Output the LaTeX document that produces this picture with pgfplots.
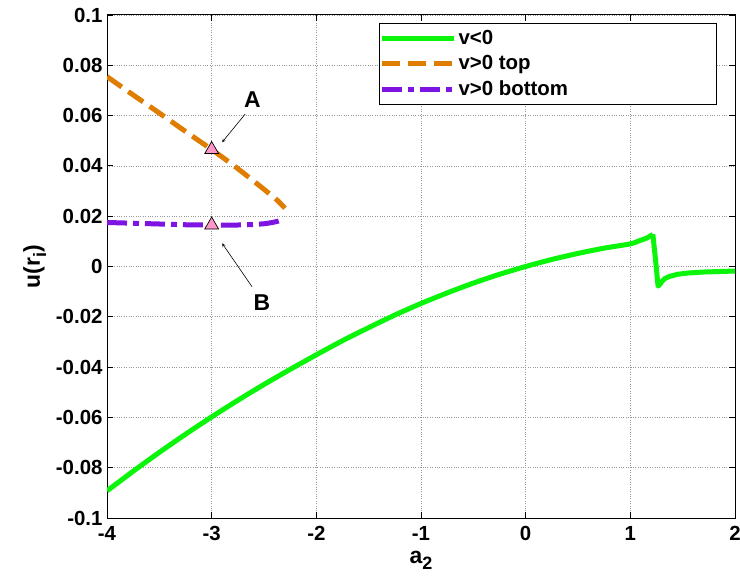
\documentclass[border=0pt]{standalone}
\usepackage{pgfplots}
\pgfplotsset{compat=1.18}
\usepackage{fontspec}
\setmainfont{Liberation Sans}
\definecolor{cgreen}{RGB}{10,245,10}
\definecolor{corange}{RGB}{222,125,0}
\definecolor{cpurple}{RGB}{125,20,225}
\definecolor{cpink}{RGB}{255,150,200}
\pgfplotstableread{
x y
-4 -0.0892
-3.75 -0.0814
-3.5 -0.0739
-3.25 -0.0667
-3 -0.0598
-2.75 -0.0532
-2.5 -0.0469
-2.25 -0.0409
-2 -0.0351
-1.75 -0.0295
-1.5 -0.0243
-1.25 -0.0193
-1 -0.0147
-0.75 -0.0105
-0.5 -0.0066
-0.25 -0.0031
0 0
0.25 0.0028
0.5 0.0052
0.75 0.0073
1 0.0090
1.09 0.0103
1.15 0.0112
1.19 0.0121
1.215 0.0128
}\greendata
\pgfplotstableread{
x y
1.215 0.0128
1.24 0.0030
1.265 -0.0078
1.28 -0.0072
1.3 -0.0060
1.33 -0.0048
1.37 -0.0040
1.45 -0.0031
1.55 -0.0026
1.7 -0.0022
1.85 -0.0020
2 -0.0018
}\greentail
\pgfplotstableread{
x y
-4 0.0755
-3.75 0.0682
-3.5 0.0610
-3.25 0.0537
-3 0.0465
-2.8 0.0405
-2.6 0.0340
-2.45 0.0290
-2.37 0.0262
-2.3 0.0232
}\orangedata
\pgfplotstableread{
x y
-4 0.0175
-3.75 0.0172
-3.5 0.0169
-3.25 0.0166
-3 0.0165
-2.75 0.0165
-2.6 0.0167
-2.5 0.0170
-2.42 0.0175
-2.36 0.0181
-2.33 0.0186
}\purpledata
\begin{document}
\begin{tikzpicture}
\begin{axis}[
  scale only axis,
  width=628bp, height=503bp,
  xmin=-4, xmax=2, ymin=-0.1, ymax=0.1,
  xtick={-4,-3,-2,-1,0,1,2},
  xticklabels={-4,-3,-2,-1,0,1,2},
  ytick={-0.1,-0.08,-0.06,-0.04,-0.02,0,0.02,0.04,0.06,0.08,0.1},
  yticklabels={-0.1,-0.08,-0.06,-0.04,-0.02,0,0.02,0.04,0.06,0.08,0.1},
  scaled y ticks=false,
  tick pos=both,
  tick align=inside,
  major tick length=6bp,
  every tick/.style={black, line width=0.8bp},
  axis line style={black, line width=1bp},
  grid=major,
  major grid style={dotted, gray!80, line width=0.7bp},
  ticklabel style={font=\bfseries\fontsize{20.5}{20.5}\selectfont},
  /pgf/number format/assume math mode=true,
  xticklabel style={yshift=-5bp},
  yticklabel style={xshift=-1bp},
  xlabel={a\raisebox{-0.5ex}{\fontsize{18}{18}\selectfont 2}},
  ylabel={u(r\raisebox{-0.5ex}{\fontsize{18}{18}\selectfont i})},
  label style={font=\bfseries\fontsize{23}{23}\selectfont},
  xlabel style={at={(axis description cs:0.5,-0.0895)}, anchor=base},
  ylabel style={at={(axis description cs:-0.1067,0.5)}, anchor=base},
  legend style={at={(1,1)}, anchor=north east, xshift=-18bp, yshift=-8bp,
    draw=black, line width=0.9bp, font=\bfseries\fontsize{20.5}{20.5}\selectfont,
    row sep=5.5bp, inner xsep=0bp, inner ysep=5bp},
  legend cell align=left,
  legend image code/.code={\draw[#1] (0bp,0bp) -- (72bp,0bp);},
]
\addplot[cgreen, line width=5bp, line join=round, smooth, tension=0.4] table {\greendata};
\addlegendentry{\makebox[256bp][l]{v<0}}
\addplot[corange, line width=5bp, dash pattern=on 18bp off 8bp, smooth, tension=0.4] table {\orangedata};
\addlegendentry{\makebox[256bp][l]{v>0 top}}
\addplot[cpurple, line width=5bp, dash pattern=on 20bp off 6bp on 6bp off 6bp, smooth, tension=0.4] table {\purpledata};
\addlegendentry{\makebox[256bp][l]{v>0 bottom}}
\addplot[cgreen, line width=5bp, line join=round, forget plot] table {\greentail};
\addplot[only marks, mark=triangle*, mark size=8bp, mark options={fill=cpink, draw=black, line width=0.7bp}, forget plot] coordinates {(-3,0.0465) (-3,0.0165)};
\draw[->, black, line width=0.6bp, >=stealth] (axis cs:-2.68,0.0606) -- (axis cs:-2.90,0.0494);
\draw[->, black, line width=0.6bp, >=stealth] (axis cs:-2.615,-0.008) -- (axis cs:-2.90,0.0092);
\node[font=\bfseries\fontsize{23}{23}\selectfont] at (axis cs:-2.61,0.0665) {A};
\node[font=\bfseries\fontsize{23}{23}\selectfont] at (axis cs:-2.52,-0.0143) {B};
\coordinate (sw) at (rel axis cs:0,0);
\coordinate (ne) at (rel axis cs:1,1);
\end{axis}
\pgfresetboundingbox
\path ([xshift=-107bp,yshift=-67bp]sw) rectangle ([xshift=5bp,yshift=15bp]ne);
\end{tikzpicture}
\end{document}
